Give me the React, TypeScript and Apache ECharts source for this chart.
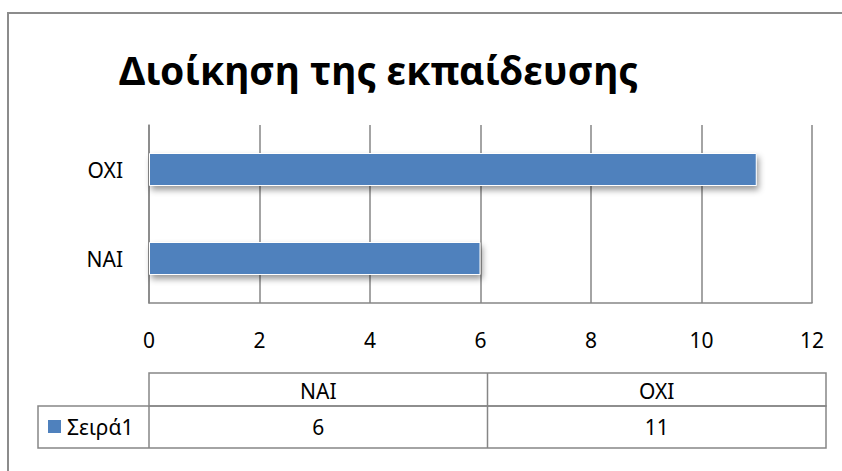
import React, { useEffect, useRef } from "react";
import * as echarts from "echarts";

const TITLE = "Διοίκηση της εκπαίδευσης";
const CATEGORIES = ["NAI", "OXI"];
const SERIES_NAME = "Σειρά1";
const VALUES = [6, 11];
const X_MIN = 0;
const X_MAX = 12;
const X_STEP = 2;

const FONT = "'Noto Sans', 'DejaVu Sans', sans-serif";
const GRAY = "#868686";
const BLUE = "#4F81BD";
const FS = 21;

export default function App() {
  const ref = useRef<HTMLDivElement>(null);

  useEffect(() => {
    if (!ref.current) return;
    const chart = echarts.init(ref.current, null, { renderer: "svg" });

    // data table layout
    const tLeft = 38;
    const tStart = 149;
    const tEnd = 826;
    const rowTop = 373;
    const rowMid = 406;
    const rowBot = 448;
    const colW = (tEnd - tStart) / CATEGORIES.length;
    const lineStyle = { stroke: GRAY, lineWidth: 1.5 };

    const tableEls: any[] = [];
    tableEls.push({ type: "rect", shape: { x: tStart, y: rowTop, width: tEnd - tStart, height: rowMid - rowTop }, style: { fill: "none", ...lineStyle } });
    tableEls.push({ type: "rect", shape: { x: tLeft, y: rowMid, width: tEnd - tLeft, height: rowBot - rowMid }, style: { fill: "none", ...lineStyle } });
    tableEls.push({ type: "line", shape: { x1: tStart, y1: rowMid, x2: tStart, y2: rowBot }, style: lineStyle });
    CATEGORIES.forEach((c, i) => {
      const cx = tStart + colW * (i + 0.5);
      if (i > 0) {
        const x = tStart + colW * i;
        tableEls.push({ type: "line", shape: { x1: x, y1: rowTop, x2: x, y2: rowBot }, style: lineStyle });
      }
      tableEls.push({ type: "text", x: cx, y: (rowTop + rowMid) / 2 + 1, style: { text: c, fill: "#000", font: `${FS}px ${FONT}`, align: "center", verticalAlign: "middle" } });
      tableEls.push({ type: "text", x: cx, y: (rowMid + rowBot) / 2, style: { text: String(VALUES[i]), fill: "#000", font: `${FS}px ${FONT}`, align: "center", verticalAlign: "middle" } });
    });
    tableEls.push({ type: "rect", shape: { x: 48, y: 420, width: 13, height: 13 }, style: { fill: BLUE } });
    tableEls.push({ type: "text", x: 67, y: (rowMid + rowBot) / 2, style: { text: SERIES_NAME, fill: "#000", font: `${FS}px ${FONT}`, align: "left", verticalAlign: "middle" } });

    chart.setOption({
      animation: false,
      backgroundColor: "#fff",
      textStyle: { fontFamily: FONT },
      title: {
        text: TITLE,
        left: 114,
        top: 45,
        textStyle: { fontFamily: FONT, fontWeight: "bold", fontSize: 39, color: "#000" },
      },
      grid: { left: 149, right: 30, top: 125, bottom: 168, containLabel: false },
      xAxis: {
        type: "value",
        min: X_MIN,
        max: X_MAX,
        interval: X_STEP,
        axisLine: { show: true, lineStyle: { color: GRAY, width: 1.5 } },
        axisTick: { show: false },
        axisLabel: { color: "#000", fontSize: FS, fontFamily: FONT, margin: 26 },
        splitLine: { show: true, lineStyle: { color: GRAY, width: 1.5 } },
      },
      yAxis: {
        type: "category",
        data: CATEGORIES,
        axisLine: { show: true, lineStyle: { color: GRAY, width: 1.5 } },
        axisTick: { show: false },
        axisLabel: { color: "#000", fontSize: FS, fontFamily: FONT, margin: 26 },
        splitLine: { show: false },
      },
      series: [
        {
          type: "bar",
          name: SERIES_NAME,
          data: VALUES,
          barWidth: 33,
          itemStyle: {
            color: BLUE,
            borderColor: "#ffffff",
            borderWidth: 1,
            shadowColor: "rgba(0,0,0,0.4)",
            shadowBlur: 6,
            shadowOffsetX: 2,
            shadowOffsetY: 4,
          },
        },
      ],
      graphic: [
        {
          type: "polyline",
          shape: { points: [[8, 471], [8, 13], [842, 13]] },
          style: { stroke: "#8c8c8c", lineWidth: 2, fill: "none" },
        },
        ...tableEls,
      ],
    });

    return () => chart.dispose();
  }, []);

  return (
    <div
      ref={ref}
      style={{ position: "fixed", left: 0, top: 0, width: 842, height: 471 }}
    />
  );
}
